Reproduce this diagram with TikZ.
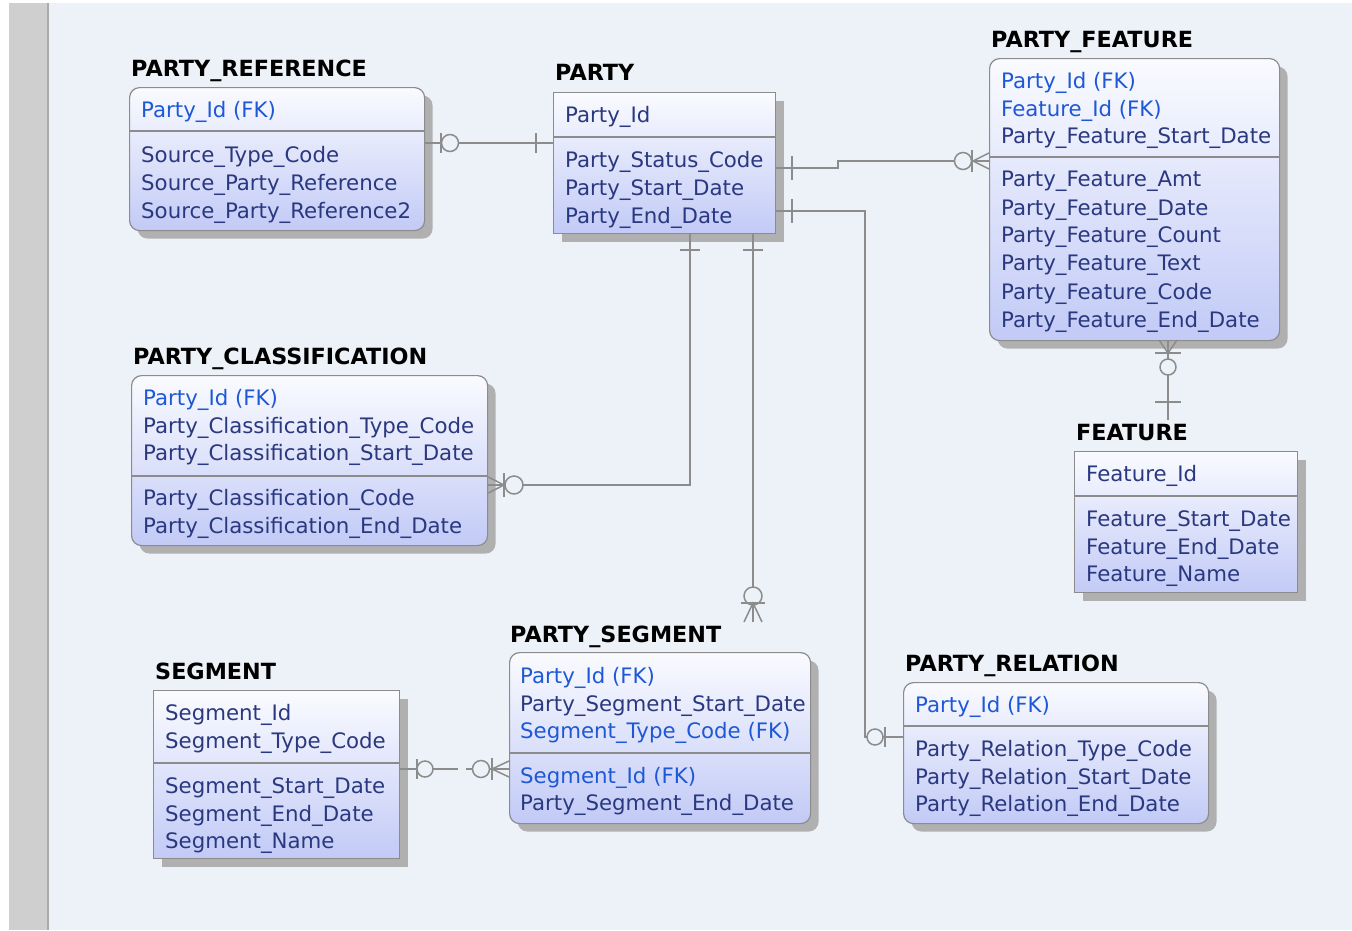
\documentclass[tikz,border=0pt]{standalone}
\usepackage{fontspec}
\setmainfont{DejaVu Sans}
\usetikzlibrary{shadows,calc}

\definecolor{canvas}{RGB}{237,242,249}
\definecolor{strip}{RGB}{207,207,207}
\definecolor{stripline}{RGB}{170,170,170}
\definecolor{keyblue}{RGB}{30,88,214}
\definecolor{navy}{RGB}{42,56,128}
\definecolor{boxtop}{RGB}{250,251,255}
\definecolor{boxbot}{RGB}{194,202,246}
\definecolor{edge}{RGB}{140,140,140}
\definecolor{wirecol}{RGB}{140,140,140}
\definecolor{shadecol}{RGB}{176,176,176}

\tikzset{
  entity/.style={draw=edge, line width=1.2pt, top color=boxtop, bottom color=boxbot,
    anchor=north west, inner sep=0pt,
    drop shadow={shadow xshift=8pt, shadow yshift=-8pt, fill=shadecol, opacity=1}},
  dep/.style={rounded corners=10pt},
  title/.style={anchor=base west, inner sep=0pt, font=\fontsize{22.3}{25}\selectfont\bfseries, text=black},
  field/.style={anchor=base west, inner sep=0pt, font=\fontsize{21.3}{24}\selectfont},
  divider/.style={draw=edge, line width=1.2pt},
  wire/.style={draw=wirecol, line width=1.5pt},
  ring/.style={draw=wirecol, line width=1.5pt, fill=canvas},
}

% entity box: [style] name, x1, y1, x2, y2, divider y
\newcommand\entitybox[7][]{%
  \node[entity,#1,minimum width=#5pt-#3pt,minimum height=#6pt-#4pt] (#2) at (#3,#4) {};
  \draw[divider] (#2.west |- 0,#7) -- (#2.east |- 0,#7);
}

\begin{document}
\begin{tikzpicture}[x=1pt,y=-1pt]
  % canvas
  \fill[white] (0,0) rectangle (1352,930);
  \fill[canvas] (49,3) rectangle (1352,930);
  \fill[strip] (9,3) rectangle (47,930);
  \fill[stripline] (47,3) rectangle (49,930);
  \useasboundingbox (0,0) rectangle (1352,930);

  % ---------- PARTY_REFERENCE ----------
  \entitybox[dep]{pref}{129}{87}{424}{230}{131}
  \node[title] (pref-t) at (131,76) {PARTY\_REFERENCE};
  \foreach \txt/\yy/\cc [count=\i] in {Party\_Id (FK)/109/keyblue, Source\_Type\_Code/154/navy,
      Source\_Party\_Reference/182/navy, Source\_Party\_Reference2/210/navy}
    \node[field,text=\cc] (pref-\i) at (141,\yy+8) {\txt};

  % ---------- PARTY ----------
  \entitybox{party}{553}{92}{775}{233}{137}
  \node[title] (party-t) at (555,80) {PARTY};
  \foreach \txt/\yy/\cc [count=\i] in {Party\_Id/114/navy, Party\_Status\_Code/159/navy,
      Party\_Start\_Date/187/navy, Party\_End\_Date/215/navy}
    \node[field,text=\cc] (party-\i) at (565,\yy+8) {\txt};

  % ---------- PARTY_FEATURE ----------
  \entitybox[dep]{pf}{989}{58}{1279}{340}{157}
  \node[title] (pf-t) at (991,47) {PARTY\_FEATURE};
  \foreach \txt/\yy/\cc [count=\i] in {Party\_Id (FK)/80/keyblue, Feature\_Id (FK)/108/keyblue,
      Party\_Feature\_Start\_Date/135/navy, Party\_Feature\_Amt/178/navy,
      Party\_Feature\_Date/207/navy, Party\_Feature\_Count/234/navy,
      Party\_Feature\_Text/262/navy, Party\_Feature\_Code/291/navy,
      Party\_Feature\_End\_Date/319/navy}
    \node[field,text=\cc] (pf-\i) at (1001,\yy+8) {\txt};

  % ---------- FEATURE ----------
  \entitybox{feat}{1074}{451}{1297}{592}{496}
  \node[title] (feat-t) at (1076,440) {FEATURE};
  \foreach \txt/\yy/\cc [count=\i] in {Feature\_Id/473/navy, Feature\_Start\_Date/518/navy,
      Feature\_End\_Date/546/navy, Feature\_Name/573/navy}
    \node[field,text=\cc] (feat-\i) at (1086,\yy+8) {\txt};

  % ---------- PARTY_CLASSIFICATION ----------
  \entitybox[dep]{pc}{131}{375}{487}{545}{476}
  \node[title] (pc-t) at (133,364) {PARTY\_CLASSIFICATION};
  \foreach \txt/\yy/\cc [count=\i] in {Party\_Id (FK)/397/keyblue,
      Party\_Classification\_Type\_Code/425/navy, Party\_Classification\_Start\_Date/452/navy,
      Party\_Classification\_Code/497/navy, Party\_Classification\_End\_Date/525/navy}
    \node[field,text=\cc] (pc-\i) at (143,\yy+8) {\txt};

  % ---------- PARTY_SEGMENT ----------
  \entitybox[dep]{ps}{509}{652}{810}{823}{753}
  \node[title] (ps-t) at (510,642) {PARTY\_SEGMENT};
  \foreach \txt/\yy/\cc [count=\i] in {Party\_Id (FK)/675/keyblue,
      Party\_Segment\_Start\_Date/703/navy, Segment\_Type\_Code (FK)/730/keyblue,
      Segment\_Id (FK)/775/keyblue, Party\_Segment\_End\_Date/802/navy}
    \node[field,text=\cc] (ps-\i) at (520,\yy+8) {\txt};

  % ---------- SEGMENT ----------
  \entitybox{seg}{153}{690}{399}{858}{763}
  \node[title] (seg-t) at (155,679) {SEGMENT};
  \foreach \txt/\yy/\cc [count=\i] in {Segment\_Id/712/navy, Segment\_Type\_Code/740/navy,
      Segment\_Start\_Date/785/navy, Segment\_End\_Date/813/navy, Segment\_Name/840/navy}
    \node[field,text=\cc] (seg-\i) at (165,\yy+8) {\txt};

  % ---------- PARTY_RELATION ----------
  \entitybox[dep]{pr}{903}{682}{1208}{823}{726}
  \node[title] (pr-t) at (905,671) {PARTY\_RELATION};
  \foreach \txt/\yy/\cc [count=\i] in {Party\_Id (FK)/704/keyblue,
      Party\_Relation\_Type\_Code/748/navy, Party\_Relation\_Start\_Date/776/navy,
      Party\_Relation\_End\_Date/803/navy}
    \node[field,text=\cc] (pr-\i) at (915,\yy+8) {\txt};

  % free ends of the relationships that stop above a title
  \coordinate (ps-top) at (753,622);
  \coordinate (feat-top) at (1168,420);

  % ---------- relationships ----------
  % PARTY -- PARTY_REFERENCE
  \draw[wire] (pref.east |- 0,143) -- (party.west |- 0,143);
  \draw[wire] (441,133) -- (441,153);
  \draw[ring] (450,143) circle (8.5pt);
  \draw[wire] (536,133) -- (536,153);

  % PARTY -- PARTY_FEATURE
  \draw[wire] (party.east |- 0,168) -- (838,168) -- (838,161) -- (pf.west |- 0,161);
  \draw[wire] (792,156) -- (792,180);
  \draw[ring] (963,161) circle (8.5pt);
  \draw[wire] (972,150) -- (972,172);
  \draw[wire] (989,153) -- (973,161) -- (989,169);

  % PARTY -- PARTY_RELATION
  \draw[wire] (party.east |- 0,211) -- (865,211) -- (865,737) -- (pr.west |- 0,737);
  \draw[wire] (792,199) -- (792,223);
  \draw[ring] (875,737) circle (8pt);
  \draw[wire] (885,727) -- (885,747);

  % PARTY -- PARTY_CLASSIFICATION
  \draw[wire] (party.south -| 690,0) -- (690,485) -- (pc.east |- 0,485);
  \draw[wire] (680,250) -- (700,250);
  \draw[ring] (514,485) circle (9pt);
  \draw[wire] (504,473) -- (504,497);
  \draw[wire] (pc.east |- 0,477) -- (504,485) -- (pc.east |- 0,493);

  % PARTY -- PARTY_SEGMENT
  \draw[wire] (party.south -| 753,0) -- (ps-top);
  \draw[wire] (743,250) -- (763,250);
  \draw[ring] (753,596) circle (9pt);
  \draw[wire] (741,603) -- (765,603);
  \draw[wire] (744,622) -- (753,603) -- (762,622);

  % SEGMENT -- PARTY_SEGMENT
  \draw[wire, dash pattern=on 58pt off 8pt] (seg.east |- 0,769) -- (ps.west |- 0,769);
  \draw[wire] (417,759) -- (417,779);
  \draw[ring] (425,769) circle (8pt);
  \draw[ring] (481,769) circle (8.5pt);
  \draw[wire] (492,758) -- (492,780);
  \draw[wire] (ps.west |- 0,761) -- (492,769) -- (ps.west |- 0,777);

  % PARTY_FEATURE -- FEATURE
  \draw[wire] (pf.south -| 1168,0) -- (feat-top);
  \draw[wire] (1159,340) -- (1168,353) -- (1177,340);
  \draw[wire] (1155,353) -- (1181,353);
  \draw[ring] (1168,367) circle (8pt);
  \draw[wire] (1155,402) -- (1181,402);
\end{tikzpicture}
\end{document}
